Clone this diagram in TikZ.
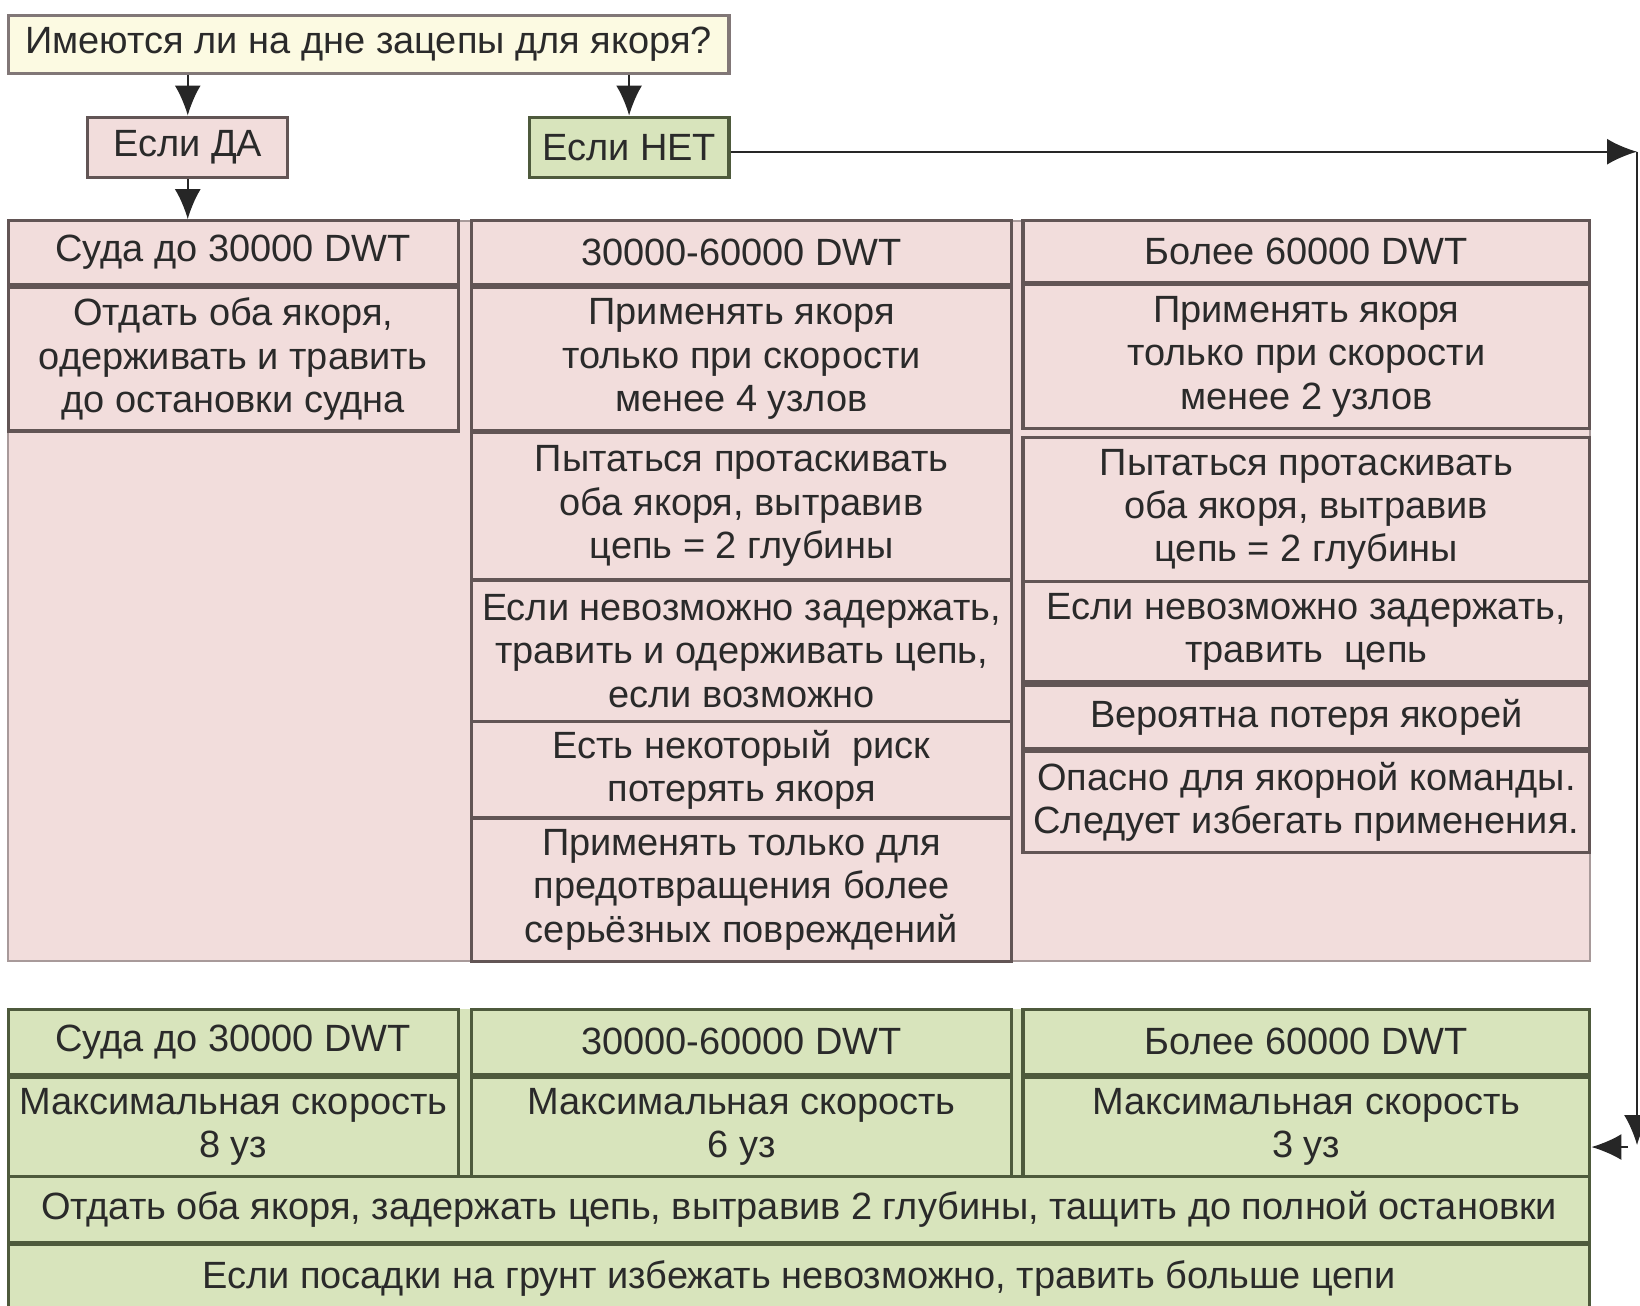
\documentclass[tikz,border=0pt]{standalone}
\usepackage{fontspec}
\setmainfont{Liberation Sans}
\usepackage{tikz}
\usetikzlibrary{positioning, arrows.meta}

\definecolor{pinkfill}{HTML}{F2DDDC}
\definecolor{pinkline}{HTML}{625555}
\definecolor{pinkedge}{HTML}{A89A9A}
\definecolor{greenfill}{HTML}{D8E4BC}
\definecolor{greenline}{HTML}{4E5A3C}
\definecolor{creamfill}{HTML}{FCFAE2}
\definecolor{textgray}{HTML}{2A2A2A}

\newcommand{\cellfont}{\fontsize{10.8}{12.35}\selectfont}
% cell node spanning (x1,y1)-(x2,y2)
\newcommand{\boxcell}[7]{%
  \node[#1, minimum width={(#5-#3)*0.01cm}, minimum height={(#6-#4)*0.01cm}]
    (#2) at ({(#3+#5)/2},{(#4+#6)/2}) {#7};}

\tikzset{
  cell/.style={draw=pinkline, line width=0.9pt, inner sep=0pt, align=center, font=\cellfont, text=textgray},
  pinkcell/.style={cell, fill=pinkfill},
  greencell/.style={cell, draw=greenline, fill=greenfill},
  creamcell/.style={cell, draw=pinkline!80, fill=creamfill},
  arr/.style={-{Latex[length=3mm,width=2.6mm]}, line width=0.6pt, draw=black!85}
}

\begin{document}
\begin{tikzpicture}[x=0.01cm, y=-0.01cm]
    \useasboundingbox (0,0) rectangle (1640,1305);

    % Question and answers
    \boxcell{creamcell}{q}{8.4}{15.7}{729}{73.2}{Имеются ли на дне зацепы для якоря?}
    \boxcell{pinkcell}{da}{87.9}{117.1}{287.6}{177.8}{Если ДА}
    \boxcell{greencell}{net}{529.2}{117.1}{729}{177.8}{Если НЕТ}

    % Pink table background
    \fill[pinkfill, draw=pinkedge, line width=0.6pt] (8.4,220.7) rectangle (1589.8,961.2);

    % Pink cells
    \foreach \n/\xa/\ya/\xb/\yb/\t in {
      ph1/8.4/220.7/458.1/284.5/{Суда до 30000 DWT},
      pa1/8.4/287.6/458.1/430.9/{Отдать оба якоря,\\одерживать и травить\\до остановки судна},
      ph2/471.7/220.7/1011.4/284.5/{30000-60000 DWT},
      pa2/471.7/287.6/1011.4/430.9/{Применять якоря\\только при скорости\\менее 4 узлов},
      pb2/471.7/432/1011.4/580/{Пытаться протаскивать\\оба якоря, вытравив\\цепь = 2 глубины},
      pc2/471.7/580/1011.4/721.7/{Если невозможно задержать,\\травить и одерживать цепь,\\если возможно},
      pd2/471.7/721.7/1011.4/817.9/{Есть некоторый~ риск\\потерять якоря},
      pe2/471.7/817.9/1011.4/961.2/{Применять только для\\предотвращения более\\серьёзных повреждений},
      ph3/1022.9/220.7/1589.8/282.4/{Более 60000 DWT},
      pa3/1022.9/284.5/1589.8/428.8/{Применять якоря\\только при скорости\\менее 2 узлов},
      pb3/1022.9/437.2/1589.8/581.5/{Пытаться протаскивать\\оба якоря, вытравив\\цепь = 2 глубины},
      pc3/1022.9/581.5/1589.8/681.9/{Если невозможно задержать,\\травить~ цепь},
      pd3/1022.9/685/1589.8/748.9/{Вероятна потеря якорей},
      pe3/1022.9/751/1589.8/852.4/{Опасно для якорной команды.\\Следует избегать применения.}} {
      \boxcell{pinkcell}{\n}{\xa}{\ya}{\xb}{\yb}{\t}
    }

    % Green table background
    \fill[greenfill] (8.4,1009.3) rectangle (1589.8,1305);

    % Green cells
    \foreach \n/\xa/\ya/\xb/\yb/\t in {
      gh1/8.4/1009.3/458.1/1074.1/{Суда до 30000 DWT},
      gh2/471.7/1009.3/1011.4/1074.1/{30000-60000 DWT},
      gh3/1022.9/1009.3/1589.8/1074.1/{Более 60000 DWT},
      gs1/8.4/1077.3/458.1/1176.6/{Максимальная скорость\\8 уз},
      gs2/471.7/1077.3/1011.4/1176.6/{Максимальная скорость\\6 уз},
      gs3/1022.9/1077.3/1589.8/1176.6/{Максимальная скорость\\3 уз},
      gw1/8.4/1176.6/1589.8/1242.5/{Отдать оба якоря, задержать цепь, вытравив 2 глубины, тащить до полной остановки},
      gw2/8.4/1244.6/1589.8/1312/{Если посадки на грунт избежать невозможно, травить больше цепи}} {
      \boxcell{greencell}{\n}{\xa}{\ya}{\xb}{\yb}{\t}
    }

    % Arrows
    \coordinate (c1) at (1637,151.7);
    \coordinate (c2) at (1637,1145);
    \coordinate (c3) at (1628,1147);
    \draw[arr] (q.south -| da.north) -- (da.north);
    \draw[arr] (q.south -| net.north) -- (net.north);
    \draw[arr] (da.south) -- (da.south |- ph1.north);
    \draw[arr] (net.east |- c1) -- (c1);
    \draw[arr] (c1) -- (c2);
    \draw[arr] (c3) -- (c3 -| gs3.east);
\end{tikzpicture}
\end{document}
